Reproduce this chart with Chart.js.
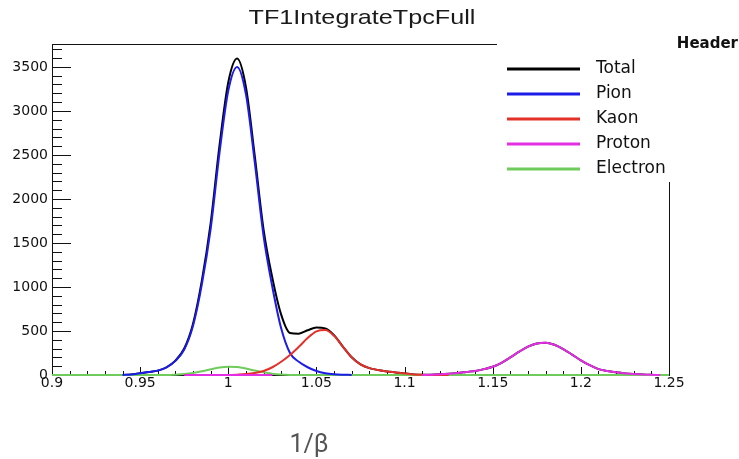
<!DOCTYPE html>
<html>
<head>
<meta charset="utf-8">
<script src="https://cdn.jsdelivr.net/npm/chart.js@4.4.1/dist/chart.umd.min.js"></script>
<style>
  body { margin: 0; background: #fff; }
  #wrap { position: relative; width: 739px; height: 459px; }
  #title { position: absolute; left: 362px; top: 6px; transform: translateX(-50%) scaleX(1.2);
           font: 21px/21px "Liberation Sans", Arial, sans-serif; color: #1a1a1a; white-space: nowrap; }
  #xtitle { position: absolute; left: 309px; top: 431px; transform: translateX(-50%);
            font: 25px/25px Roboto, sans-serif; color: #555; white-space: nowrap; }
</style>
</head>
<body>
<div id="wrap">
  <canvas id="chart" width="739" height="459"></canvas>
  <div id="title">TF1IntegrateTpcFull</div>
  <div id="xtitle">1/β</div>
</div>
<script>
// 1/beta sample points shared by all curves (null = outside that function's range)
const beta = [
  0.900, 0.905, 0.910, 0.915, 0.920, 0.925, 0.930, 0.935, 0.940, 0.945,
  0.950, 0.955, 0.960, 0.965, 0.970, 0.975, 0.980, 0.985, 0.990, 0.995,
  1.000, 1.005, 1.010, 1.015, 1.020, 1.025, 1.030, 1.035, 1.040, 1.045,
  1.050, 1.055, 1.060, 1.065, 1.070, 1.075, 1.080, 1.085, 1.090, 1.095,
  1.100, 1.105, 1.110, 1.115, 1.120, 1.125, 1.130, 1.135, 1.140, 1.145,
  1.150, 1.155, 1.160, 1.165, 1.170, 1.175, 1.180, 1.185, 1.190, 1.195,
  1.200, 1.205, 1.210, 1.215, 1.220, 1.225, 1.230, 1.235, 1.240, 1.245,
  1.250
];
const total = [
  0, 0, 0, 0, 0, 0, 0, 0, 1, 6,
  20, 33, 50, 88, 164, 301, 583, 1072, 1725, 2605,
  3325, 3594, 3273, 2492, 1655, 1103, 686, 478, 470, 508,
  540, 530, 453, 323, 201, 120, 78, 57, 41, 29,
  17, 7, 2, 3, 8, 15, 24, 35, 46, 67,
  93, 139, 200, 265, 322, 358, 367, 343, 294, 232,
  167, 111, 67, 45, 30, 18, 10, 5, 2, 0,
  0
];
const pion = [
  null, null, null, null, null, null, null, null, 1, 6,
  20, 33, 50, 88, 160, 290, 560, 1030, 1660, 2520,
  3230, 3500, 3190, 2420, 1580, 1000, 530, 250, 150, 88,
  45, 20, 8, 3, 1, null, null, null, null, null,
  null, null, null, null, null, null, null, null, null, null,
  null, null, null, null, null, null, null, null, null, null,
  null, null, null, null, null, null, null, null, null, null,
  null
];
const kaon = [
  null, null, null, null, null, null, null, null, null, null,
  null, null, null, null, null, null, null, null, null, null,
  0, 4, 10, 22, 45, 88, 150, 227, 320, 420,
  495, 510, 445, 320, 200, 120, 78, 57, 41, 29,
  17, 7, 2, 0, 0, 0, null, null, null, null,
  null, null, null, null, null, null, null, null, null, null,
  null, null, null, null, null, null, null, null, null, null,
  null
];
const proton = [
  null, null, null, null, null, null, null, null, null, null,
  null, null, null, null, null, 0, 0, 0, 0, 0,
  0, 0, 0, 0, 0, 0, null, null, null, null,
  null, null, null, null, null, null, null, null, null, null,
  null, null, 0, 3, 8, 15, 24, 35, 46, 67,
  93, 139, 200, 265, 322, 358, 367, 343, 294, 232,
  167, 111, 67, 45, 30, 18, 10, 5, 2, 0,
  null
];
const electron = [
  0, 0, 0, 0, 0, 0, 0, 0, 0, 0,
  0, 0, 0, 0, 4, 11, 23, 42, 65, 85,
  95, 90, 73, 50, 30, 15, 6, 1, 0, 0,
  0, 0, 0, 0, 0, 0, 0, 0, 0, 0,
  0, 0, 0, 0, 0, 0, 0, 0, 0, 0,
  0, 0, 0, 0, 0, 0, 0, 0, 0, 0,
  0, 0, 0, 0, 0, 0, 0, 0, 0, 0,
  0
];
// axis tick labels
const xTickValues = [0.9, 0.95, 1, 1.05, 1.1, 1.15, 1.2, 1.25];
const yTickValues = [0, 500, 1000, 1500, 2000, 2500, 3000, 3500];
const xRange = [0.9, 1.25];
const yRange = [0, 3760];

const FONT = '"DejaVu Sans", sans-serif';
const legendBox = { left: 497, bottom: 182 };

function pts(vals) { return beta.map((b, i) => ({ x: b, y: vals[i] })); }
function curve(label, vals, color, order) {
  return { label, data: pts(vals), borderColor: color, borderWidth: 2, pointRadius: 0,
           cubicInterpolationMode: 'monotone', spanGaps: false, clip: false, order };
}

// ROOT-like frame: axis lines, inward ticks, frame cut by the legend box
const framePlugin = {
  id: 'frame',
  beforeDatasetsDraw(chart) {
    const { ctx, chartArea: a, scales: { x, y } } = chart;
    ctx.save();
    ctx.strokeStyle = '#111';
    ctx.lineWidth = 1;
    ctx.beginPath();
    ctx.moveTo(a.left + 0.5, a.top); ctx.lineTo(a.left + 0.5, a.bottom + 1);
    ctx.moveTo(a.left, a.bottom + 0.5); ctx.lineTo(a.right + 1, a.bottom + 0.5);
    ctx.moveTo(a.left, a.top + 0.5); ctx.lineTo(legendBox.left, a.top + 0.5);
    ctx.moveTo(a.right + 0.5, legendBox.bottom); ctx.lineTo(a.right + 0.5, a.bottom);
    for (let i = 0; i <= 35; i++) {
      const px = Math.round(x.getPixelForValue(0.9 + i * 0.01)) + 0.5;
      const len = i % 5 === 0 ? 8 : 4;
      ctx.moveTo(px, a.bottom); ctx.lineTo(px, a.bottom - len);
    }
    for (let v = 0; v <= 3700; v += 100) {
      const py = Math.round(y.getPixelForValue(v)) + 0.5;
      const len = v % 500 === 0 ? 19 : 10;
      ctx.moveTo(a.left, py); ctx.lineTo(a.left + len, py);
    }
    ctx.stroke();
    ctx.restore();
  }
};

const legendPlugin = {
  id: 'rootLegend',
  afterDatasetsDraw(chart) {
    const ctx = chart.ctx;
    ctx.save();
    ctx.textBaseline = 'middle';
    ctx.fillStyle = '#111';
    ctx.font = 'bold 15px ' + FONT;
    ctx.textAlign = 'right';
    ctx.fillText('Header', 738, 44);
    ctx.textAlign = 'left';
    ctx.font = '17px ' + FONT;
    chart.data.datasets.forEach((ds, k) => {
      const yy = 69 + 25 * k;
      ctx.strokeStyle = ds.borderColor;
      ctx.lineWidth = 3;
      ctx.beginPath();
      ctx.moveTo(507, yy); ctx.lineTo(580, yy);
      ctx.stroke();
      ctx.fillText(ds.label, 596, yy);
    });
    ctx.restore();
  }
};

new Chart(document.getElementById('chart'), {
  type: 'line',
  data: {
    datasets: [
      curve('Total', total, '#000000', 10),
      curve('Pion', pion, '#1c1ce8', 8),
      curve('Kaon', kaon, '#e4302a', 7),
      curve('Proton', proton, '#e42ee4', 6),
      curve('Electron', electron, '#6fcb5b', 9)
    ]
  },
  options: {
    responsive: false,
    devicePixelRatio: 1,
    animation: false,
    events: [],
    layout: { padding: { top: 44, right: 70, left: 0, bottom: 0 } },
    plugins: { legend: { display: false }, tooltip: { enabled: false }, title: { display: false } },
    scales: {
      x: {
        type: 'linear', min: xRange[0], max: xRange[1],
        grid: { display: false, drawTicks: false }, border: { display: false },
        afterBuildTicks: s => { s.ticks = xTickValues.map(v => ({ value: v })); },
        ticks: { autoSkip: false, maxRotation: 0, padding: 0, color: '#111',
                 font: { family: FONT, size: 14 }, callback: v => String(+v.toFixed(3)) },
        afterFit: s => { s.height = 84; s.paddingLeft = 0; s.paddingRight = 0; }
      },
      y: {
        type: 'linear', min: yRange[0], max: yRange[1],
        grid: { display: false, drawTicks: false }, border: { display: false },
        afterBuildTicks: s => { s.ticks = yTickValues.map(v => ({ value: v })); },
        ticks: { padding: 4, color: '#111', font: { family: FONT, size: 14 },
                 callback: v => String(v) },
        afterFit: s => { s.width = 52; s.paddingTop = 0; s.paddingBottom = 0; }
      }
    }
  },
  plugins: [framePlugin, legendPlugin]
});
</script>
</body>
</html>
